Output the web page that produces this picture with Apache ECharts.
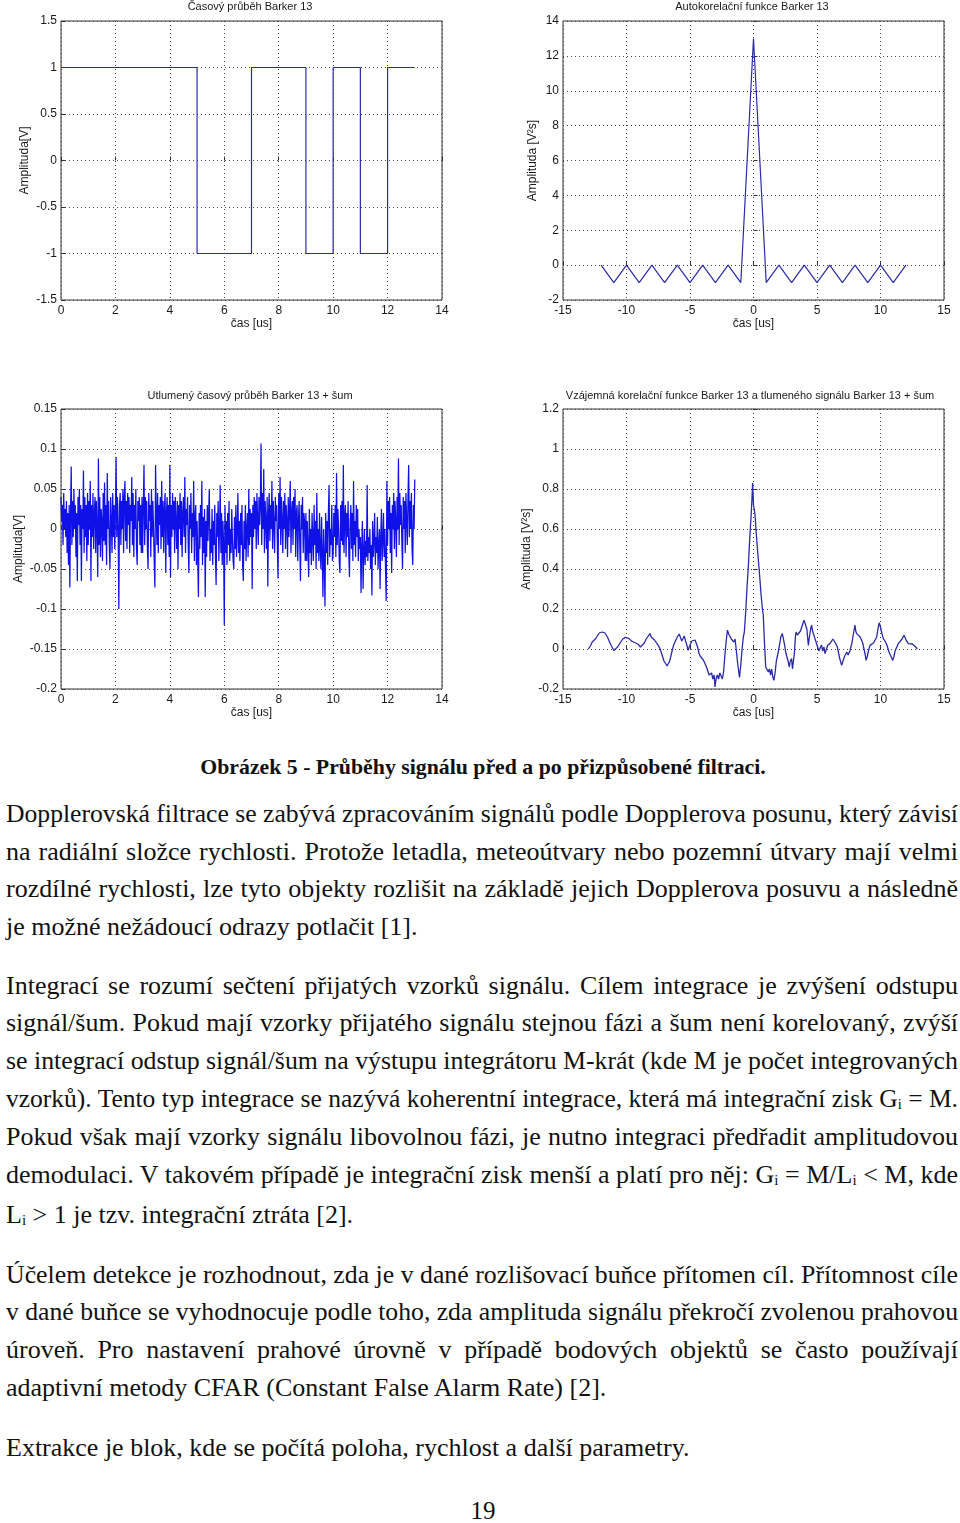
<!DOCTYPE html>
<html>
<head>
<meta charset="utf-8">
<script src="https://cdn.jsdelivr.net/npm/echarts@6/dist/echarts.min.js"></script>
<style>
  html, body { margin:0; padding:0; background:#fff; }
  body { width:960px; height:1523px; position:relative; overflow:hidden; }
  #chart { position:absolute; left:0; top:0; width:960px; height:735px; }
  .ln { position:absolute; left:6px; width:952px; font-family:'Liberation Serif','Times New Roman',serif; font-size:26px; line-height:38px; color:#111; white-space:nowrap; }
  .ln > span { display:inline-block; transform-origin:0 50%; }
  .cap { position:absolute; left:0; width:966px; text-align:center; font-family:'Liberation Serif','Times New Roman',serif; font-size:21.8px; font-weight:bold; line-height:30px; color:#111; }
  .pg { position:absolute; left:0; width:966px; text-align:center; font-family:'Liberation Serif','Times New Roman',serif; font-size:25px; line-height:30px; color:#111; }
  sub { font-size:15px; vertical-align:-2px; line-height:0; }
</style>
</head>
<body>
<div id="chart"></div>

<div class="cap" style="top:752px">Obrázek 5 - Průběhy signálu před a po přizpůsobené filtraci.</div>

<div class="ln" style="top:795px">Dopplerovská filtrace se zabývá zpracováním signálů podle Dopplerova posunu, který závisí</div>
<div class="ln" style="top:833px">na radiální složce rychlosti. Protože letadla, meteoútvary nebo pozemní útvary mají velmi</div>
<div class="ln" style="top:870px">rozdílné rychlosti, lze tyto objekty rozlišit na základě jejich Dopplerova posuvu a následně</div>
<div class="ln last" style="top:908px">je možné nežádoucí odrazy potlačit [1].</div>

<div class="ln" style="top:967px">Integrací se rozumí sečtení přijatých vzorků signálu. Cílem integrace je zvýšení odstupu</div>
<div class="ln" style="top:1004px">signál/šum. Pokud mají vzorky přijatého signálu stejnou fázi a šum není korelovaný, zvýší</div>
<div class="ln" style="top:1042px">se integrací odstup signál/šum na výstupu integrátoru M-krát (kde M je počet integrovaných</div>
<div class="ln" style="top:1080px">vzorků). Tento typ integrace se nazývá koherentní integrace, která má integrační zisk G<sub>i</sub> = M.</div>
<div class="ln" style="top:1118px">Pokud však mají vzorky signálu libovolnou fázi, je nutno integraci předřadit amplitudovou</div>
<div class="ln" style="top:1156px">demodulaci. V takovém případě je integrační zisk menší a platí pro něj: G<sub>i</sub> = M/L<sub>i</sub> &lt; M, kde</div>
<div class="ln last" style="top:1196px">L<sub>i</sub> &gt; 1 je tzv. integrační ztráta [2].</div>

<div class="ln" style="top:1256px">Účelem detekce je rozhodnout, zda je v dané rozlišovací buňce přítomen cíl. Přítomnost cíle</div>
<div class="ln" style="top:1293px">v dané buňce se vyhodnocuje podle toho, zda amplituda signálu překročí zvolenou prahovou</div>
<div class="ln" style="top:1331px">úroveň. Pro nastavení prahové úrovně v případě bodových objektů se často používají</div>
<div class="ln last" style="top:1369px">adaptivní metody CFAR (Constant False Alarm Rate) [2].</div>

<div class="ln last" style="top:1429px">Extrakce je blok, kde se počítá poloha, rychlost a další parametry.</div>

<div class="pg" style="top:1496px">19</div>

<script>
// ---------------- DATA ----------------
// Chart 1: Barker 13 time waveform (chip start times and values)
const barkerT = [0,1,2,3,4,5,6,7,8,9,10,11,12,13];
const barkerV = [1,1,1,1,1,-1,-1,1,1,-1,1,-1,1,1];

// Chart 2: autocorrelation of Barker 13
const acfT = [-12,-11,-10,-9,-8,-7,-6,-5,-4,-3,-2,-1,0,1,2,3,4,5,6,7,8,9,10,11,12];
const acfV = [0,-1,0,-1,0,-1,0,-1,0,-1,0,-1,13,-1,0,-1,0,-1,0,-1,0,-1,0,-1,0];

// Chart 3: attenuated Barker 13 + noise; sample step (us) and values (one row per us)
const noiseDt = 0.025;
const noiseV = [
  0.04,0.01,0.03,-0.02,0.045,0.0,0.025,-0.01,0.035,-0.03,0.02,-0.045,0.03,-0.073,0.02,0.078,-0.02,0.035,-0.01,0.05,0.0,0.03,-0.035,0.02,-0.065,0.04,0.005,0.05,-0.02,0.03,-0.065,0.025,0.0,0.073,-0.03,0.04,-0.01,0.03,-0.04,0.045,
  -0.02,0.035,0.0,0.06,-0.065,0.03,-0.01,0.045,-0.025,0.02,0.04,-0.03,0.035,0.0,-0.06,0.088,-0.02,0.04,-0.035,0.025,0.01,-0.04,0.045,-0.015,0.058,-0.02,0.03,-0.045,0.07,0.0,0.035,-0.02,-0.05,0.04,0.01,-0.03,0.045,-0.01,0.03,-0.025,
  0.02,0.09,-0.01,0.04,0.0,-0.1,0.03,0.045,-0.02,0.035,0.0,0.05,-0.03,0.04,0.06,-0.015,0.035,-0.025,0.045,0.005,0.04,-0.03,0.03,0.01,0.065,-0.02,0.045,-0.035,0.03,0.0,0.05,-0.025,-0.045,0.035,0.01,0.04,-0.02,0.03,-0.03,0.04,
  -0.03,0.03,0.08,-0.02,0.04,0.0,0.035,-0.025,-0.05,0.045,0.01,0.03,-0.035,0.05,-0.01,0.035,0.0,-0.04,-0.073,0.08,0.02,-0.02,0.045,-0.03,0.03,0.005,0.04,-0.025,0.06,-0.01,0.035,-0.03,0.025,0.045,-0.055,0.02,0.04,-0.02,0.03,-0.035,
  0.08,-0.06,0.03,-0.01,0.045,0.0,0.035,-0.03,0.04,0.01,-0.025,0.035,-0.05,0.03,0.0,0.045,-0.02,0.035,-0.035,0.02,0.04,-0.01,0.065,-0.03,0.025,0.005,0.04,-0.02,-0.055,0.03,0.0,0.045,-0.03,0.02,-0.01,0.06,-0.04,0.015,0.03,-0.045,
  0.01,-0.04,-0.085,0.02,-0.025,0.03,-0.01,0.06,-0.045,0.015,-0.03,0.025,-0.085,0.01,-0.035,0.03,-0.015,0.02,0.05,-0.04,0.0,-0.03,0.025,-0.045,0.01,-0.02,0.03,-0.035,-0.07,0.02,-0.01,0.035,-0.04,0.0,0.055,-0.03,0.02,-0.045,0.01,-0.02,
  -0.12,0.03,-0.03,0.01,-0.045,0.02,-0.02,0.035,-0.04,0.0,-0.03,0.025,-0.015,-0.04,-0.05,0.015,-0.025,0.03,-0.035,0.0,0.045,-0.03,0.01,-0.04,0.02,-0.02,0.03,-0.045,-0.065,0.01,-0.025,0.03,-0.04,0.0,0.02,-0.035,0.05,-0.02,0.025,-0.01,
  0.02,-0.075,0.03,-0.01,0.04,0.0,0.035,-0.025,0.045,0.01,-0.02,0.04,0.005,0.03,0.107,-0.02,0.045,0.0,0.075,-0.03,0.035,0.01,-0.025,0.04,-0.072,0.02,0.045,-0.015,0.03,0.0,0.06,-0.025,0.035,0.005,-0.03,0.04,0.01,0.03,-0.02,-0.062,
  0.045,0.0,0.065,-0.02,0.04,0.01,-0.03,0.035,0.0,0.045,-0.025,0.03,0.01,-0.035,0.04,-0.01,0.025,0.06,-0.03,0.02,0.035,-0.02,0.04,0.0,0.05,-0.035,0.02,0.03,-0.04,0.01,0.035,-0.02,-0.065,0.03,0.0,0.04,-0.03,0.02,0.01,-0.04,
  0.02,-0.04,0.01,-0.025,-0.06,0.025,-0.03,0.0,-0.045,0.02,-0.015,-0.04,0.03,-0.02,0.01,-0.05,0.045,-0.03,0.0,-0.04,0.02,-0.025,-0.05,0.015,-0.03,-0.085,0.0,-0.04,-0.097,0.02,-0.03,0.01,-0.045,0.02,0.055,-0.035,0.0,-0.02,0.03,-0.04,
  -0.03,0.02,-0.01,0.03,-0.035,0.07,-0.02,0.025,0.0,-0.04,-0.055,0.03,-0.015,0.035,-0.02,0.08,-0.03,0.015,0.03,-0.035,0.02,-0.01,0.035,-0.03,-0.06,0.01,0.03,-0.025,0.02,-0.04,0.06,-0.02,0.01,-0.035,0.03,-0.01,0.025,-0.04,0.0,-0.025,
  -0.01,-0.08,-0.02,0.01,-0.075,-0.03,0.0,-0.045,-0.015,-0.035,0.055,-0.04,-0.01,-0.03,0.0,-0.05,-0.02,-0.083,0.01,-0.035,-0.015,0.02,-0.045,-0.01,-0.03,0.015,-0.05,-0.02,0.0,-0.075,-0.01,0.025,-0.04,-0.015,0.02,-0.035,0.0,-0.05,-0.09,0.06,
  -0.02,0.035,0.0,0.04,-0.03,0.02,-0.055,0.03,0.0,0.045,-0.025,0.035,0.01,-0.035,0.04,0.0,0.088,-0.02,0.045,0.005,0.03,-0.015,-0.05,0.04,0.0,0.035,-0.03,0.045,0.01,-0.02,0.04,0.08,-0.01,0.035,0.0,0.045,-0.025,-0.045,0.03,0.0,
  0.062
];

// Chart 4: cross-correlation [time us, amplitude]
const xcorrPoints = [
  [-13.0,0.0],[-12.8,0.02],[-12.7,0.035],[-12.55,0.04],[-12.45,0.05],[-12.3,0.065],[-12.15,0.08],[-12.0,0.09],
  [-11.9,0.085],[-11.8,0.088],[-11.7,0.08],[-11.5,0.06],[-11.3,0.03],[-11.1,0.005],[-11.0,-0.007],[-10.85,0.0],
  [-10.7,0.01],[-10.5,0.03],[-10.3,0.05],[-10.1,0.058],[-9.95,0.05],[-9.8,0.052],[-9.6,0.04],[-9.45,0.045],
  [-9.3,0.03],[-9.1,0.025],[-8.9,0.01],[-8.75,0.012],[-8.6,0.03],[-8.45,0.05],[-8.3,0.06],[-8.15,0.077],
  [-8.05,0.06],[-7.95,0.065],[-7.8,0.045],[-7.65,0.04],[-7.5,0.018],[-7.35,0.0],[-7.2,-0.03],[-7.05,-0.06],
  [-6.9,-0.07],[-6.8,-0.085],[-6.7,-0.09],[-6.6,-0.06],[-6.45,-0.02],[-6.3,0.018],[-6.15,0.04],[-6.0,0.06],
  [-5.85,0.075],[-5.75,0.085],[-5.65,0.04],[-5.55,0.045],[-5.45,0.065],[-5.35,0.04],[-5.25,0.02],[-5.15,-0.007],
  [-5.0,0.02],[-4.85,0.04],[-4.75,0.05],[-4.6,0.045],[-4.5,0.035],[-4.4,0.01],[-4.3,-0.02],[-4.2,-0.035],
  [-4.05,-0.03],[-3.95,-0.055],[-3.8,-0.057],[-3.7,-0.09],[-3.6,-0.11],[-3.5,-0.13],[-3.4,-0.14],[-3.3,-0.12],
  [-3.2,-0.15],[-3.1,-0.13],[-3.03,-0.19],[-2.95,-0.15],[-2.85,-0.13],[-2.75,-0.15],[-2.65,-0.12],[-2.55,-0.13],
  [-2.45,-0.15],[-2.35,-0.11],[-2.25,-0.03],[-2.15,0.04],[-2.05,0.094],[-1.95,0.075],[-1.85,0.08],[-1.75,0.05],
  [-1.65,0.055],[-1.55,0.035],[-1.45,0.05],[-1.35,-0.01],[-1.25,-0.07],[-1.15,-0.12],[-1.1,-0.142],[-1.0,-0.08],
  [-0.9,0.0],[-0.8,0.06],[-0.72,0.085],[-0.6,0.2],[-0.5,0.32],[-0.4,0.42],[-0.3,0.55],[-0.2,0.653],
  [-0.12,0.75],[-0.07,0.83],[0.0,0.72],[0.06,0.7],[0.12,0.67],[0.25,0.55],[0.35,0.47],[0.46,0.386],
  [0.6,0.27],[0.7,0.2],[0.77,0.17],[0.85,0.05],[0.96,-0.09],[1.05,-0.1],[1.17,-0.115],[1.25,-0.1],
  [1.35,-0.13],[1.43,-0.1],[1.52,-0.14],[1.61,-0.157],[1.7,-0.12],[1.8,-0.06],[1.95,-0.015],[2.05,0.02],
  [2.15,0.06],[2.27,0.077],[2.35,0.07],[2.45,0.02],[2.53,-0.015],[2.62,-0.02],[2.72,-0.06],[2.82,-0.09],
  [2.9,-0.06],[3.0,-0.048],[3.07,-0.1],[3.14,-0.107],[3.22,-0.02],[3.3,0.06],[3.35,0.085],[3.45,0.07],
  [3.6,0.077],[3.7,0.09],[3.8,0.1],[3.9,0.13],[3.98,0.144],[4.05,0.13],[4.13,0.135],[4.2,0.1],
  [4.32,0.018],[4.4,0.06],[4.5,0.1],[4.58,0.119],[4.65,0.09],[4.75,0.07],[4.84,0.052],[4.95,0.03],
  [5.05,0.01],[5.15,-0.01],[5.24,0.0],[5.35,0.02],[5.45,-0.01],[5.55,0.01],[5.63,-0.023],[5.75,0.0],
  [5.85,0.02],[5.95,0.01],[6.02,0.027],[6.15,0.035],[6.25,0.05],[6.37,0.052],[6.45,0.03],[6.55,0.025],
  [6.6,0.01],[6.7,-0.02],[6.8,-0.05],[6.94,-0.082],[7.05,-0.06],[7.15,-0.04],[7.25,-0.05],[7.34,-0.015],
  [7.45,-0.03],[7.6,-0.007],[7.75,0.03],[7.85,0.07],[7.99,0.119],[8.05,0.09],[8.12,0.077],[8.25,0.08],
  [8.4,0.06],[8.52,0.052],[8.6,0.03],[8.7,0.0],[8.8,-0.03],[8.86,-0.057],[8.95,-0.04],[9.05,-0.01],
  [9.17,0.018],[9.3,0.02],[9.45,0.03],[9.57,0.035],[9.7,0.06],[9.8,0.1],[9.9,0.132],[10.0,0.11],
  [10.1,0.08],[10.22,0.052],[10.35,0.04],[10.5,0.02],[10.6,0.0],[10.7,-0.02],[10.85,-0.04],[10.96,-0.057],
  [11.05,-0.04],[11.15,-0.01],[11.25,0.0],[11.4,0.027],[11.55,0.035],[11.7,0.05],[11.85,0.069],[11.95,0.055],
  [12.05,0.04],[12.2,0.027],[12.35,0.02],[12.5,0.025],[12.58,0.018],[12.7,0.015],[12.8,0.01],[12.9,0.0]
];

// Titles and labels
const titles = [
  'Časový průběh Barker 13',
  'Autokorelační funkce Barker 13',
  'Utlumený časový průběh Barker 13 + šum',
  'Vzájemná korelační funkce Barker 13 a tlumeného signálu Barker 13 + šum'
];
const xNames = ['čas [us]','čas [us]','čas [us]','čas [us]'];
const yNames = ['Amplituda[V]','Amplituda [V²s]','Amplituda[V]','Amplituda [V²s]'];

// ---------------- CHART ----------------
const FF = "'Liberation Sans', Arial, sans-serif";
const TXT = '#1a1a1a';
const LINE1 = '#2a2aa8';
const LINE_NOISE = '#1010e8';

const grids = [
  {left:61,  top:21,  width:381, height:279},
  {left:563, top:21,  width:381, height:279},
  {left:61,  top:409, width:381, height:280},
  {left:563, top:409, width:381, height:280}
];
const xRanges = [[0,14,2],[-15,15,5],[0,14,2],[-15,15,5]];
const yRanges = [[-1.5,1.5,0.5],[-2,14,2],[-0.2,0.15,0.05],[-0.2,1.2,0.2]];
const yNameGaps = [30,24,36,30];
const titlePos = [[250,7],[752,7],[250,396],[750,396]];

function splitL(){ return {show:true, lineStyle:{color:'#444', type:[1,3], width:1}}; }
function tick(){ return {show:true, inside:true, length:4, lineStyle:{color:'#333'}}; }

const option = {
  animation:false,
  backgroundColor:'#fff',
  textStyle:{fontFamily:FF},
  grid: grids.map(g => Object.assign({show:true, borderColor:'#333', borderWidth:1, backgroundColor:'transparent'}, g)),
  xAxis: xRanges.map((r,i) => ({
    type:'value', gridIndex:i, min:r[0], max:r[1], interval:r[2],
    name:xNames[i], nameLocation:'middle', nameGap:18,
    nameTextStyle:{color:TXT, fontSize:12, fontFamily:FF},
    axisLine:{show:false}, axisTick:tick(),
    axisLabel:{margin:5, color:TXT, fontSize:12, fontFamily:FF},
    splitLine:splitL()
  })),
  yAxis: yRanges.map((r,i) => ({
    type:'value', gridIndex:i, min:r[0], max:r[1], interval:r[2],
    name:yNames[i], nameLocation:'middle', nameGap:yNameGaps[i],
    nameTextStyle:{color:TXT, fontSize:12, fontFamily:FF},
    axisLine:{show:false}, axisTick:tick(),
    axisLabel:{margin:4, color:TXT, fontSize:12, fontFamily:FF},
    splitLine:splitL()
  })),
  graphic: titles.map((t,i) => ({
    type:'text', x:titlePos[i][0], y:titlePos[i][1], silent:true,
    style:{text:t, align:'center', verticalAlign:'middle', fill:TXT, font:'11px ' + FF}
  })),
  series: [
    {type:'line', xAxisIndex:0, yAxisIndex:0, step:'end', showSymbol:false,
     data: barkerT.map((t,i)=>[t, barkerV[i]]), lineStyle:{color:LINE1, width:1.2}},
    {type:'line', xAxisIndex:1, yAxisIndex:1, showSymbol:false,
     data: acfT.map((t,i)=>[t, acfV[i]]), lineStyle:{color:LINE1, width:1.2}},
    {type:'line', xAxisIndex:2, yAxisIndex:2, showSymbol:false,
     data: noiseV.map((v,i)=>[+(i*noiseDt).toFixed(3), v]), lineStyle:{color:LINE_NOISE, width:1.25}},
    {type:'line', xAxisIndex:3, yAxisIndex:3, showSymbol:false,
     data: xcorrPoints, lineStyle:{color:LINE1, width:1.3}}
  ]
};

const chart = echarts.init(document.getElementById('chart'), null, {renderer:'canvas'});
chart.setOption(option);

// ---------------- TEXT LINE JUSTIFICATION ----------------
const LINE_W = 952;
document.querySelectorAll('.ln').forEach(el => {
  const span = document.createElement('span');
  span.innerHTML = el.innerHTML;
  el.innerHTML = '';
  el.appendChild(span);
  const natural = span.getBoundingClientRect().width;
  const isLast = el.classList.contains('last');
  if (natural > LINE_W) {
    span.style.transform = 'scaleX(' + (LINE_W / natural) + ')';
  } else if (!isLast) {
    const spaces = (span.textContent.match(/ /g) || []).length;
    if (spaces > 0) span.style.wordSpacing = ((LINE_W - natural) / spaces) + 'px';
  }
});
</script>
</body>
</html>
